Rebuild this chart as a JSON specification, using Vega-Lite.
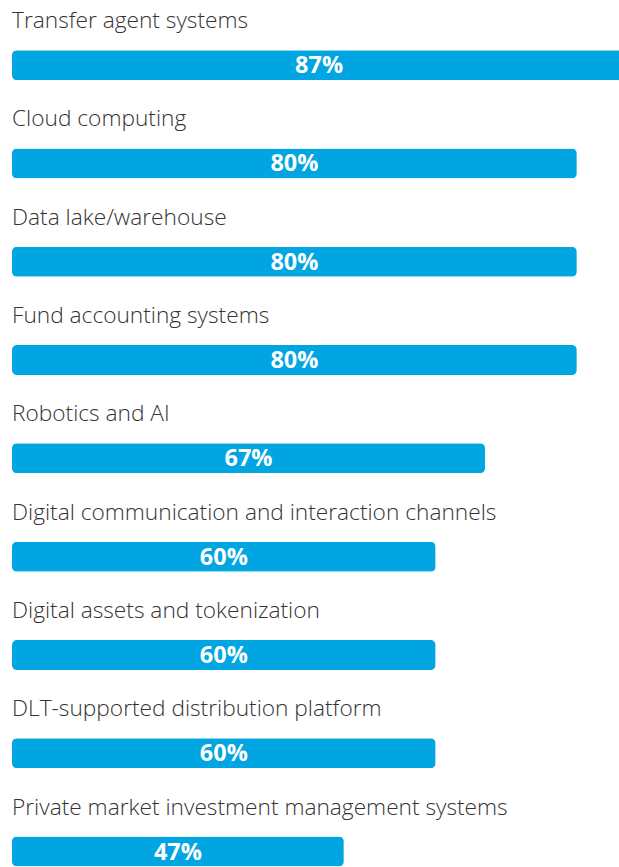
{
  "$schema": "https://vega.github.io/schema/vega-lite/v6.json",
  "autosize": "none",
  "padding": {"left": 12, "top": 0, "right": 0, "bottom": 0},
  "width": 706,
  "height": {"step": 98.3},
  "background": "white",
  "config": {"view": {"stroke": null}},
  "data": {"values": [
    {"category": "Transfer agent systems", "value": 87},
    {"category": "Cloud computing", "value": 80},
    {"category": "Data lake/warehouse", "value": 80},
    {"category": "Fund accounting systems", "value": 80},
    {"category": "Robotics and AI", "value": 67},
    {"category": "Digital communication and interaction channels", "value": 60},
    {"category": "Digital assets and tokenization", "value": 60},
    {"category": "DLT-supported distribution platform", "value": 60},
    {"category": "Private market investment management systems", "value": 47}
  ]},
  "encoding": {
    "y": {"field": "category", "type": "nominal", "sort": null, "axis": null,
          "scale": {"paddingInner": 0, "paddingOuter": 0}}
  },
  "layer": [
    {
      "mark": {"type": "bar", "height": 30, "yOffset": 16, "color": "#00A5E1", "cornerRadius": 5},
      "encoding": {
        "x": {"field": "value", "type": "quantitative", "axis": null, "scale": {"domain": [0, 100]}}
      }
    },
    {
      "mark": {"type": "text", "align": "left", "baseline": "alphabetic", "dy": -21, "font": "Open Sans", "fontWeight": 300, "fontSize": 22.7, "color": "#333333"},
      "encoding": {
        "x": {"datum": 0, "type": "quantitative"},
        "text": {"field": "category"}
      }
    },
    {
      "transform": [
        {"calculate": "datum.value / 2", "as": "mid"},
        {"calculate": "datum.value + '%'", "as": "label"}
      ],
      "mark": {"type": "text", "align": "center", "baseline": "alphabetic", "dy": 24, "font": "Open Sans", "fontWeight": "bold", "fontSize": 23.5, "color": "white"},
      "encoding": {
        "x": {"field": "mid", "type": "quantitative"},
        "text": {"field": "label", "type": "nominal"}
      }
    }
  ]
}
